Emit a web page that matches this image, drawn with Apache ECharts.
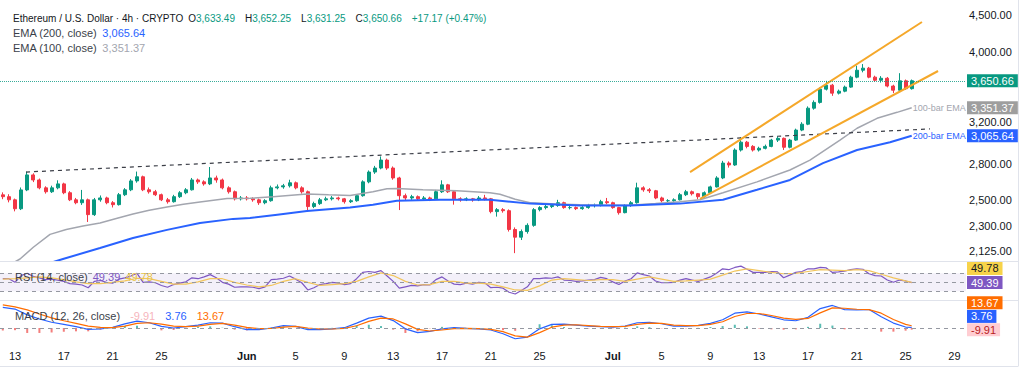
<!DOCTYPE html>
<html><head><meta charset="utf-8">
<script src="https://cdn.jsdelivr.net/npm/echarts@6/dist/echarts.min.js"></script>
<style>html,body{margin:0;padding:0;background:#fff;}#c{width:1024px;height:373px;}</style>
</head><body><div id="c"></div>
<script>
// ---- DATA (x unit = days since May 13 2025 00:00) ----
const candleStartDay = -1;
const candleStepDays = 0.5;
// [open, close, low, high] per 12h
const candles = [
[2540,2525,2505,2560],[2525,2500,2480,2545],[2500,2430,2410,2510],[2430,2580,2420,2600],[2580,2706,2570,2735],
[2706,2663,2645,2720],[2663,2597,2585,2675],[2597,2565,2550,2610],[2565,2597,2555,2615],[2597,2630,2585,2660],
[2630,2557,2545,2640],[2557,2500,2490,2570],[2500,2477,2465,2515],[2477,2500,2460,2580],[2500,2385,2330,2510],
[2385,2500,2375,2515],[2500,2515,2485,2535],[2515,2477,2465,2525],[2477,2462,2440,2490],[2462,2541,2455,2555],
[2541,2581,2530,2595],[2581,2655,2570,2670],[2655,2690,2640,2735],[2690,2581,2570,2700],[2581,2565,2550,2600],
[2565,2541,2530,2580],[2541,2500,2490,2550],[2500,2485,2470,2515],[2485,2525,2478,2540],[2525,2557,2515,2570],
[2557,2581,2545,2595],[2581,2663,2575,2680],[2663,2647,2630,2675],[2647,2630,2615,2660],[2630,2680,2620,2775],
[2680,2663,2640,2700],[2663,2597,2585,2675],[2597,2565,2550,2610],[2565,2508,2495,2575],[2508,2515,2495,2530],
[2515,2508,2495,2530],[2508,2500,2485,2520],[2500,2477,2460,2510],[2477,2493,2465,2505],[2493,2597,2485,2615],
[2597,2605,2585,2625],[2605,2614,2590,2630],[2614,2639,2600,2665],[2639,2597,2585,2650],[2597,2565,2550,2610],
[2565,2447,2410,2575],[2447,2470,2435,2485],[2470,2500,2460,2515],[2500,2508,2490,2525],[2508,2515,2495,2530],
[2515,2508,2495,2525],[2508,2485,2470,2515],[2485,2493,2475,2505],[2493,2533,2485,2545],[2533,2647,2525,2660],
[2647,2731,2635,2745],[2731,2766,2715,2785],[2766,2837,2755,2870],[2837,2766,2750,2850],[2766,2680,2665,2780],
[2680,2533,2420,2690],[2533,2515,2495,2550],[2515,2525,2500,2540],[2525,2508,2495,2535],[2508,2515,2495,2530],
[2515,2508,2490,2525],[2508,2565,2500,2580],[2565,2622,2555,2660],[2622,2565,2555,2630],[2565,2508,2462,2575],
[2508,2500,2485,2520],[2500,2508,2490,2520],[2508,2500,2485,2515],[2500,2515,2490,2530],[2515,2508,2495,2540],
[2508,2408,2395,2515],[2408,2423,2370,2435],[2423,2415,2400,2435],[2415,2275,2260,2425],[2275,2220,2110,2290],
[2220,2260,2200,2275],[2260,2305,2245,2320],[2305,2423,2295,2435],[2423,2439,2410,2450],[2439,2447,2425,2460],
[2447,2455,2435,2470],[2455,2477,2445,2500],[2477,2439,2430,2485],[2439,2439,2425,2452],[2439,2431,2420,2448],
[2431,2439,2422,2450],[2439,2455,2430,2468],[2455,2455,2440,2470],[2455,2485,2448,2500],[2485,2477,2465,2515],
[2477,2439,2430,2485],[2439,2400,2385,2445],[2400,2455,2395,2465],[2455,2477,2445,2490],[2477,2597,2470,2640],
[2597,2581,2565,2610],[2581,2573,2555,2595],[2573,2515,2505,2580],[2515,2493,2480,2525],[2493,2493,2480,2505],
[2493,2500,2485,2512],[2500,2541,2495,2555],[2541,2565,2530,2580],[2565,2549,2535,2575],[2549,2525,2505,2555],
[2525,2557,2518,2568],[2557,2605,2550,2615],[2605,2680,2600,2695],[2680,2810,2670,2830],[2810,2793,2770,2825],
[2793,2929,2785,2945],[2929,3003,2915,3050],[3003,2963,2945,3015],[2963,2929,2915,2975],[2929,2945,2915,2960],
[2945,2963,2935,2980],[2963,3023,2955,3035],[3023,3040,3005,3060],[3040,2955,2930,3048],[2955,3023,2945,3035],
[3023,3121,3015,3135],[3121,3180,3110,3200],[3180,3346,3170,3365],[3346,3408,3330,3430],[3408,3555,3395,3575],
[3555,3600,3540,3650],[3600,3510,3480,3615],[3510,3532,3495,3550],[3532,3578,3520,3595],[3578,3693,3570,3710],
[3693,3775,3680,3830],[3775,3800,3750,3850],[3800,3693,3680,3815],[3693,3657,3640,3710],[3657,3680,3630,3705],
[3680,3590,3575,3695],[3590,3543,3510,3605],[3543,3650,3535,3740],[3650,3560,3545,3665],[3560,3650.66,3550,3665]
];
// EMA lines: [day, value]
const ema100 = [[-1.2,2010],[-0.4,2035],[0.41,2071],[1.5,2150],[2.87,2240],[4.2,2275],[5.57,2300],[6.97,2322],[8.3,2356],[9.67,2390],[11,2418],[12.46,2444],[13.8,2465],[15.16,2483],[17.38,2510],[19.26,2512],[21.15,2525],[23.93,2547],[25.7,2540],[27.46,2535],[29.34,2565],[30.49,2590],[31.3,2592],[33.44,2581],[36.23,2573],[38.93,2557],[39.75,2545],[41,2505],[42.21,2477],[44.3,2468],[46.31,2462],[48.4,2458],[50.41,2457],[52.5,2470],[54.51,2485],[56.15,2500],[58.03,2557],[60.82,2647],[63.52,2749],[65.16,2837],[67.62,3023],[69.02,3139],[70.66,3240],[72.3,3302],[73.5,3351.37]];
const ema200 = [[1,2000],[3.93,2071],[6.97,2145],[9.67,2214],[12.46,2272],[15.16,2322],[17.87,2353],[19.26,2360],[21.5,2385],[23.93,2413],[27.46,2439],[29.34,2462],[31.3,2493],[34.84,2500],[38.93,2500],[42.21,2470],[46.31,2455],[50.41,2455],[54.51,2470],[58.03,2500],[60.82,2581],[63.52,2663],[66.23,2809],[69.02,2929],[71.72,3003],[73.5,3065.64]];
// drawn lines: [day, price]
const resistanceLine = [[0.9,2731],[75.0,3132]];
const channelUpper = [[55.33,2731],[74.34,4401]];
const channelLower = [[56.15,2507],[75.66,3766]];
// RSI per 12h (same x as candles)
const rsi = [58,58,50,65,70,63,60,56,57,55,52,47,46,44,38,52,54,50,48,57,60,64,70,50,51,49,43,39,45,48,51,60,58,62,67,60,50,46,39,40,40,39,36,40,56,57,59,64,57,49,33,38,45,47,50,48,45,47,58,72,74,72,76,64,52,37,40,43,42,45,44,56,62,53,46,45,48,46,50,49,38,39,37,28,24,32,40,58,58,60,59,62,55,54,52,53,55,56,61,58,51,45,53,58,71,67,64,53,49,49,50,55,58,55,52,57,62,70,80,78,83,86,79,72,72,72,74,73,60,66,72,74,80,80,83,82,72,73,75,78,80,79,69,65,64,55,50,55,53,49.39];
// per-day indicators
const days = [-1,0,1,2,3,4,5,6,7,8,9,10,11,12,13,14,15,16,17,18,19,20,21,22,23,24,25,26,27,28,29,30,31,32,33,34,35,36,37,38,39,40,41,42,43,44,45,46,47,48,49,50,51,52,53,54,55,56,57,58,59,60,61,62,63,64,65,66,67,68,69,70,71,72,73,73.5];
const rsiMa = [57,58,60,62,60,56,51,47,47,50,53,59,58,52,46,46,51,58,58,50,44,40,43,52,58,50,43,45,47,52,62,71,65,52,44,45,52,52,48,48,46,40,33,32,42,55,58,56,54,56,56,52,57,62,57,52,53,55,57,66,75,80,76,72,69,70,74,78,77,76,78,76,68,60,53,49.78];
const macd = [125,115,80,55,35,22,8,-8,-6,4,25,42,32,10,0,8,18,32,30,8,-10,-10,0,15,10,-10,-10,-5,2,30,60,72,45,-5,-28,-20,-5,2,-2,-5,-12,-35,-65,-55,-5,22,24,18,12,8,6,12,32,35,26,12,12,16,28,50,90,98,85,68,50,44,65,118,137,112,110,112,68,30,6,3.76];
const signal = [140,128,110,85,62,44,28,12,4,2,12,28,32,24,12,8,12,22,28,18,4,-4,-3,6,10,0,-6,-6,-2,14,40,60,55,25,-8,-18,-12,-4,-2,-4,-8,-22,-48,-55,-28,5,18,20,15,10,8,10,22,30,28,18,14,15,22,38,70,88,88,76,60,52,58,92,122,120,114,112,90,52,22,13.67];
const hist = [-15,-13,-30,-30,-27,-22,-20,-20,-10,2,13,14,0,-14,-12,0,6,10,2,-10,-14,-6,3,9,0,-10,-4,1,4,16,20,12,-10,-30,-20,-2,7,6,0,-1,-4,-13,-17,0,23,17,6,-2,-3,-2,-2,2,10,5,-2,-6,-2,1,6,12,20,10,-3,-8,-10,-8,7,26,15,-8,-4,0,-22,-22,-16,-9.91];
// axis ticks
const priceTicks = [2125,2300,2500,2800,3200,4000,4500];
const tickDays = [0,4,8,12,19,23,27,31,35,39,43,49,53,57,61,65,69,73,77];
const tickLabels = ['13','17','21','25','Jun','5','9','13','17','21','25','Jul','5','9','13','17','21','25','29'];
const rsiLevels = [70,50,30];

// ---- CHART ----
const FONT = 'Liberation Sans, Arial, sans-serif';
const fmt = v => Number(v).toLocaleString('en-US',{minimumFractionDigits:2, maximumFractionDigits:2});
const xMin = -1.23, xMax = 77.95;
const chart = echarts.init(document.getElementById('c'), null, {renderer:'svg'});

const candleData = candles.map((c,i)=>[candleStartDay+i*candleStepDays, c[0], c[1], c[2], c[3]]);
const rsiData = rsi.map((v,i)=>[candleStartDay+i*candleStepDays, v]);
const byDay = arr => arr.map((v,i)=>[days[i], v]);
const lastClose = candles[candles.length-1][1];
const R = (size, color) => ({fontSize:size, color:color, fontFamily:FONT, fontWeight:'normal'});

const xAxes = [0,1,2].map(k => ({
  type:'value', gridIndex:k, min:xMin, max:xMax,
  axisLine:{show:false}, axisTick:{show:false}, splitLine:{show:false},
  axisLabel: k===2 ? {
    customValues: tickDays, margin:5, fontSize:11, fontFamily:FONT, color:'#131722',
    formatter: v => { const i = tickDays.indexOf(Math.round(v)); const t = tickLabels[i] || ''; return /[A-Za-z]/.test(t) ? '{b|'+t+'}' : t; },
    rich:{b:{fontWeight:'bold', fontSize:11, fontFamily:FONT, color:'#131722'}}
  } : {show:false}
}));

const option = {
  animation:false,
  backgroundColor:'#ffffff',
  textStyle:{fontFamily:FONT},
  grid:[
    {left:0, right:58, top:0, height:261},
    {left:0, right:58, top:262, height:38},
    {left:0, right:58, top:301, height:44}
  ],
  xAxis: xAxes,
  yAxis:[
    {type:'log', logBase:10, gridIndex:0, position:'right', min:2058, max:4720,
     axisLine:{show:false}, axisTick:{show:false}, splitLine:{show:false},
     axisLabel:{customValues:priceTicks, formatter:v=>fmt(v), margin:3, fontSize:11, fontFamily:FONT, color:'#131722'}},
    {type:'value', gridIndex:1, position:'right', min:10.7, max:95.1, axisLine:{show:false}, axisTick:{show:false}, splitLine:{show:false}, axisLabel:{show:false}},
    {type:'value', gridIndex:2, position:'right', min:-103, max:164, axisLine:{show:false}, axisTick:{show:false}, splitLine:{show:false}, axisLabel:{show:false}}
  ],
  title:[
    {left:13, top:9, padding:0, text:'{t|Ethereum / U.S. Dollar · 4h · CRYPTO} {k|O}{v|3,633.49}  {k|H}{v|3,652.25}  {k|L}{v|3,631.25}  {k|C}{v|3,650.66}  {v|+17.17 (+0.47%)}',
     textStyle:{fontWeight:'normal', rich:{t:R(10,'#131722'), k:R(10,'#131722'), v:R(10,'#089981')}}},
    {left:13, top:24, padding:0, text:'{t|EMA (200, close)} {b|3,065.64}',
     textStyle:{fontWeight:'normal', rich:{t:R(11,'#3b3f4a'), b:R(11,'#2962ff')}}},
    {left:13, top:39, padding:0, text:'{t|EMA (100, close)} {g|3,351.37}',
     textStyle:{fontWeight:'normal', rich:{t:R(11,'#3b3f4a'), g:R(11,'#a3a6af')}}},
    {left:15, top:268, padding:0, text:'{t|RSI (14, close)} {p|49.39} {y|49.78}',
     textStyle:{fontWeight:'normal', rich:{t:R(11,'#3b3f4a'), p:R(11,'#7e57c2'), y:R(11,'#e8c54a')}}},
    {left:15, top:307, padding:0, text:'{t|MACD (12, 26, close)}  {r|-9.91}  {b|3.76}  {o|13.67}',
     textStyle:{fontWeight:'normal', rich:{t:R(11,'#3b3f4a'), r:R(11,'#f6b5bc'), b:R(11,'#2962ff'), o:R(11,'#ff6d00')}}}
  ],
  series:[
    {type:'candlestick', xAxisIndex:0, yAxisIndex:0, data:candleData, encode:{x:0, y:[1,2,3,4]}, barWidth:3.5,
     itemStyle:{color:'#089981', color0:'#f23645', borderColor:'#089981', borderColor0:'#f23645', borderWidth:1},
     markLine:{silent:true, symbol:'none', label:{show:false}, lineStyle:{color:'#089981', type:'dotted', width:1, opacity:0.8}, data:[{yAxis:lastClose}]}},
    {type:'line', xAxisIndex:0, yAxisIndex:0, data:ema100, symbol:'none', lineStyle:{color:'#a3a6af', width:1.5},
     endLabel:{show:true, formatter:'100-bar EMA', color:'#a3a6af', fontSize:9, fontFamily:FONT, distance:1}},
    {type:'line', xAxisIndex:0, yAxisIndex:0, data:ema200, symbol:'none', lineStyle:{color:'#2962ff', width:2},
     endLabel:{show:true, formatter:'200-bar EMA', color:'#2962ff', fontSize:9, fontFamily:FONT, distance:1}},
    {type:'line', xAxisIndex:0, yAxisIndex:0, data:resistanceLine, symbol:'none', lineStyle:{color:'#3c3f48', width:1.2, type:[4,4]}},
    {type:'line', xAxisIndex:0, yAxisIndex:0, data:channelUpper, symbol:'none', lineStyle:{color:'#f5a82a', width:2}},
    {type:'line', xAxisIndex:0, yAxisIndex:0, data:channelLower, symbol:'none', lineStyle:{color:'#f5a82a', width:2}},
    {type:'line', xAxisIndex:1, yAxisIndex:1, data:rsiData, symbol:'none', lineStyle:{color:'#7e57c2', width:1.2},
     markArea:{silent:true, itemStyle:{color:'rgba(126,87,194,0.09)'}, data:[[{yAxis:rsiLevels[2]},{yAxis:rsiLevels[0]}]]},
     markLine:{silent:true, symbol:'none', label:{show:false}, lineStyle:{color:'#9598a1', type:[4,4], width:1}, data:rsiLevels.map(v=>({yAxis:v}))}},
    {type:'line', xAxisIndex:1, yAxisIndex:1, data:byDay(rsiMa), symbol:'none', lineStyle:{color:'#f2c55c', width:1.2}},
    {type:'bar', xAxisIndex:2, yAxisIndex:2, data:byDay(hist), barWidth:2,
     itemStyle:{color:p=>p.value[1]>=0?'rgba(38,166,154,0.75)':'rgba(239,83,80,0.75)'},
     markLine:{silent:true, symbol:'none', label:{show:false}, lineStyle:{color:'#9598a1', type:[4,4], width:1}, data:[{yAxis:0}]}},
    {type:'line', xAxisIndex:2, yAxisIndex:2, data:byDay(macd), symbol:'none', lineStyle:{color:'#2962ff', width:1.2}},
    {type:'line', xAxisIndex:2, yAxisIndex:2, data:byDay(signal), symbol:'none', lineStyle:{color:'#ff6d00', width:1.2}}
  ]
};
chart.setOption(option);

// right-side value boxes, placed through the axes' scales
const boxes = [
  {axis:0, value:lastClose, bg:'#089981', fg:'#ffffff', dy:0},
  {axis:0, value:ema100[ema100.length-1][1], bg:'#9e9e9e', fg:'#ffffff', dy:0},
  {axis:0, value:ema200[ema200.length-1][1], bg:'#2962ff', fg:'#ffffff', dy:0},
  {axis:1, value:rsiMa[rsiMa.length-1], bg:'#f7d34a', fg:'#131722', dy:-14},
  {axis:1, value:rsi[rsi.length-1], bg:'#7e57c2', fg:'#ffffff', dy:0},
  {axis:2, value:signal[signal.length-1], bg:'#ff6d00', fg:'#ffffff', dy:-23},
  {axis:2, value:macd[macd.length-1], bg:'#2962ff', fg:'#ffffff', dy:-11},
  {axis:2, value:hist[hist.length-1], bg:'#ffcdd2', fg:'#b71c1c', dy:0}
];
const graphics = [];
boxes.forEach(b => {
  const y = chart.convertToPixel({yAxisIndex:b.axis}, b.value) + b.dy;
  graphics.push({type:'text', x:967, y:y, z:100,
    style:{text:fmt(b.value), fill:b.fg, backgroundColor:b.bg, padding:[1,4,1,4], font:'11px '+FONT, verticalAlign:'middle', align:'left'}});
});
[[0,261.5,1018,261.5],[0,300.5,1018,300.5],[0,366.5,1018,366.5],[1018.5,0,1018.5,366.5]].forEach(s=>{
  graphics.push({type:'line', z:90, shape:{x1:s[0],y1:s[1],x2:s[2],y2:s[3]}, style:{stroke:'#e0e3eb', lineWidth:1}});
});
chart.setOption({graphic:graphics});
</script>
</body></html>
